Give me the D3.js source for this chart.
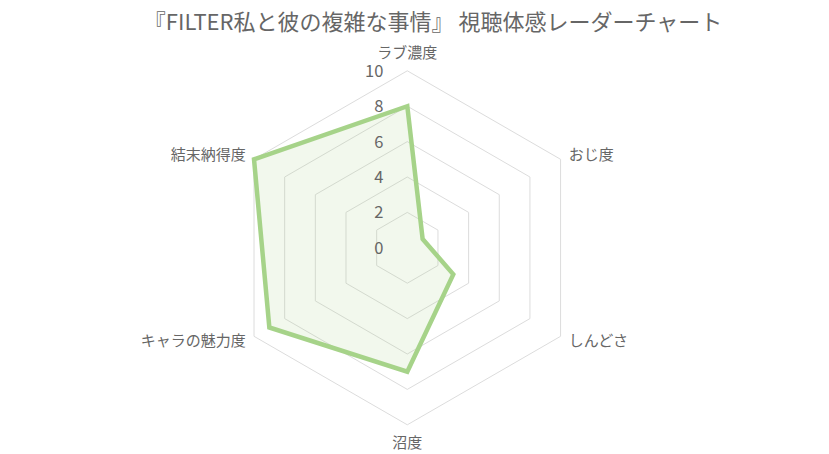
<!DOCTYPE html>
<html>
<head>
<meta charset="utf-8">
<script src="https://cdn.jsdelivr.net/npm/d3@7"></script>
<style>
  html, body { margin: 0; padding: 0; background: #fff; }
  svg { display: block; font-family: "Noto Sans CJK JP", "Noto Sans", sans-serif; }
</style>
</head>
<body>
<div id="chart"></div>
<script>
// chart data
const categories = ['ラブ濃度', 'おじ度', 'しんどさ', '沼度', 'キャラの魅力度', '結末納得度'];
const values = [8, 1, 3, 7, 9, 10];
const tickValues = [0, 2, 4, 6, 8, 10];
const title = '『FILTER私と彼の複雑な事情』 視聴体感レーダーチャート';

const width = 829, height = 454;
const cx = 407.3, cy = 247.8, radius = 177;

const svg = d3.select('#chart').append('svg')
  .attr('width', width)
  .attr('height', height);

const r = d3.scaleLinear().domain([0, 10]).range([0, radius]);
const angle = d3.scaleLinear().domain([0, categories.length]).range([0, 2 * Math.PI]);

const point = (i, v) => [Math.sin(angle(i)) * r(v), -Math.cos(angle(i)) * r(v)];

const g = svg.append('g').attr('transform', `translate(${cx},${cy})`);

// grid hexagons
g.selectAll('.grid')
  .data(tickValues.filter(d => d > 0))
  .enter()
  .append('polygon')
  .attr('class', 'grid')
  .attr('points', d => categories.map((c, i) => point(i, d).join(',')).join(' '))
  .attr('fill', 'none')
  .attr('stroke', '#dcdcdc')
  .attr('stroke-width', 1);

// data area
const line = d3.lineRadial()
  .angle((d, i) => angle(i))
  .radius(d => r(d))
  .curve(d3.curveLinearClosed);

g.append('path')
  .datum(values)
  .attr('d', line)
  .attr('fill', 'rgba(166, 211, 137, 0.15)')
  .attr('stroke', 'rgb(166, 211, 137)')
  .attr('stroke-width', 4.5)
  .attr('stroke-linejoin', 'miter');

// tick labels
g.selectAll('.tick')
  .data(tickValues)
  .enter()
  .append('text')
  .attr('class', 'tick')
  .attr('x', -24)
  .attr('y', d => -r(d))
  .attr('dy', '0.36em')
  .attr('text-anchor', 'end')
  .attr('font-size', 16.5)
  .attr('fill', '#666')
  .text(d => d);

// point labels
const pad = 9.5;
g.selectAll('.label')
  .data(categories)
  .enter()
  .append('text')
  .attr('class', 'label')
  .attr('x', (d, i) => Math.sin(angle(i)) * (radius + pad))
  .attr('y', (d, i) => -Math.cos(angle(i)) * (radius + pad))
  .attr('text-anchor', (d, i) => {
    const s = Math.sin(angle(i));
    return Math.abs(s) < 0.01 ? 'middle' : (s > 0 ? 'start' : 'end');
  })
  .attr('dy', (d, i) => {
    const c = Math.cos(angle(i));
    if (c > 0.99) return '-0.2em';
    if (c < -0.99) return '0.9em';
    return '0.35em';
  })
  .attr('font-size', 15)
  .attr('fill', '#666')
  .text(d => d);

// title
svg.append('text')
  .attr('x', 433)
  .attr('y', 30)
  .attr('text-anchor', 'middle')
  .attr('font-size', 22)
  .attr('fill', '#666')
  .text(title);
</script>
</body>
</html>
